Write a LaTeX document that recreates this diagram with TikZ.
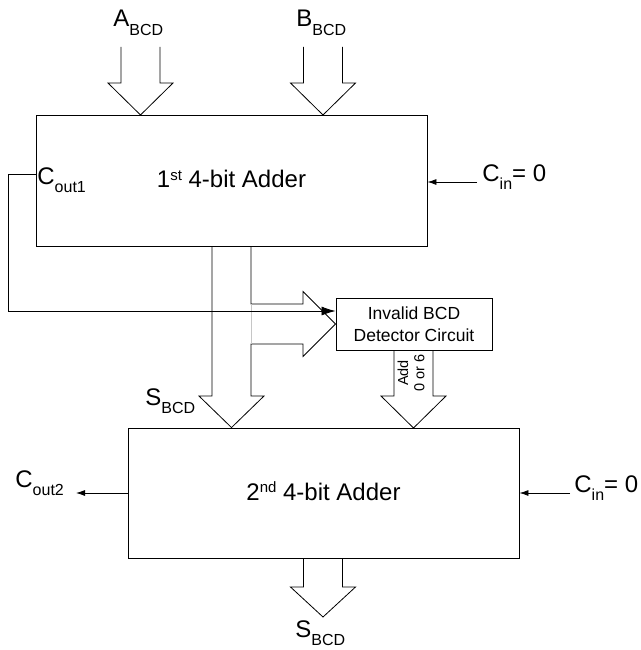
\documentclass[tikz,border=0pt]{standalone}
\usepackage{fontspec}
\setmainfont{Liberation Sans}
\usetikzlibrary{arrows.meta}
\newcommand\sbs[1]{\raisebox{-0.37em}{\fontsize{16}{18}\selectfont #1}}
\newcommand\sps[1]{\raisebox{0.3em}{\fontsize{15}{17}\selectfont #1}}
% fat bus arrow pointing down: #1 tip, #2 stem length, #3 head length
\newcommand\fatdown[3]{%
  \draw (#1) ++(-19.5,{-#3-#2}) -- ++(0,#2) -- ++(-13,0) -- ++(32.5,#3)
        -- ++(32.5,{-#3}) -- ++(-13,0) -- ++(0,{-#2});}
\begin{document}
\begin{tikzpicture}[x=1pt,y=-1pt,line width=0.8pt,
  txt/.style={inner sep=0pt,font=\fontsize{24}{28}\selectfont},
  blk/.style={draw,line width=0.9pt,inner sep=0pt,minimum width=391pt,
    font=\fontsize{24}{28}\selectfont,text height=17pt,text depth=3pt},
  vtxt/.style={rotate=90,inner sep=0pt,font=\fontsize{14.5}{16}\selectfont},
  sig/.style={-{Latex[length=9pt,width=6pt]}},
  bigsig/.style={-{Latex[length=14pt,width=9pt]}}]
\useasboundingbox (0,0) rectangle (640,650);

% blocks
\node[blk,minimum height=131pt] (add1) at (231.5,180.5) {1\sps{st} 4-bit Adder};
\node[blk,minimum height=130pt] (add2) at (323.5,493) {2\sps{nd} 4-bit Adder};
\node[draw,line width=0.9pt,inner sep=0pt,minimum width=156pt,minimum height=52pt,
  align=center,font=\fontsize{17.5}{21.7}\selectfont] (det) at (414,324)
  {Invalid BCD\\Detector Circuit};

% labels
\node[txt,anchor=base west] (albl) at (113,27) {A\sbs{BCD}};
\node[txt,anchor=base west] (blbl) at (296,27) {B\sbs{BCD}};
\node[txt,anchor=base west] (cout1) at (37,184) {C\sbs{out1}};
\node[txt,anchor=base west] (cin1l) at (482,181) {C\sbs{in}= 0};
\node[txt,anchor=base west] (smid) at (145,405) {S\sbs{BCD}};
\node[txt,anchor=base west] (cout2) at (15,487) {C\sbs{out2}};
\node[txt,anchor=base west] (cin2l) at (574,492) {C\sbs{in}= 0};
\node[txt,anchor=base west] (sbot) at (295,637) {S\sbs{BCD}};
\node[vtxt] (addt) at (403,373) {Add};
\node[vtxt] (or6) at (419.5,373) {0 or 6};

% coordinates
\coordinate (atip) at (140.5,115);
\coordinate (btip) at (323,115);
\coordinate (dtip) at (413.5,428);
\coordinate (otip) at (323,617);
\coordinate (cin1) at (477,182);
\coordinate (cin2) at (570,493);
\coordinate (co2) at (76,493);
\coordinate (loopx) at (8,311);

% bus arrows
\fatdown{atip}{36}{32}
\fatdown{btip}{36}{32}
\fatdown{dtip}{46}{32}
\fatdown{otip}{29}{30}

% S_BCD bus with branch to detector
\draw (add1.south -| 212,0) -- (212,396) -- (199,396) -- (add2.north -| 231.5,0)
  -- (264,396) -- (251,396) -- (251,344) -- (303,344) -- (303,356.5) -- (det.west)
  -- (303,291.5) -- (303,304) -- (251,304) -- (add1.south -| 251,0);
\draw[gray!45] (251,304) -- (251,344);

% carry signals
\draw[bigsig] ([yshift=6.5pt]add1.west) -| (loopx) -- ([yshift=13pt]det.west);
\draw[sig] (cin1) -- (cin1 -| add1.east);
\draw[sig] (cin2) -- (cin2 -| add2.east);
\draw[sig] (add2.west) -- (co2);
\end{tikzpicture}
\end{document}
